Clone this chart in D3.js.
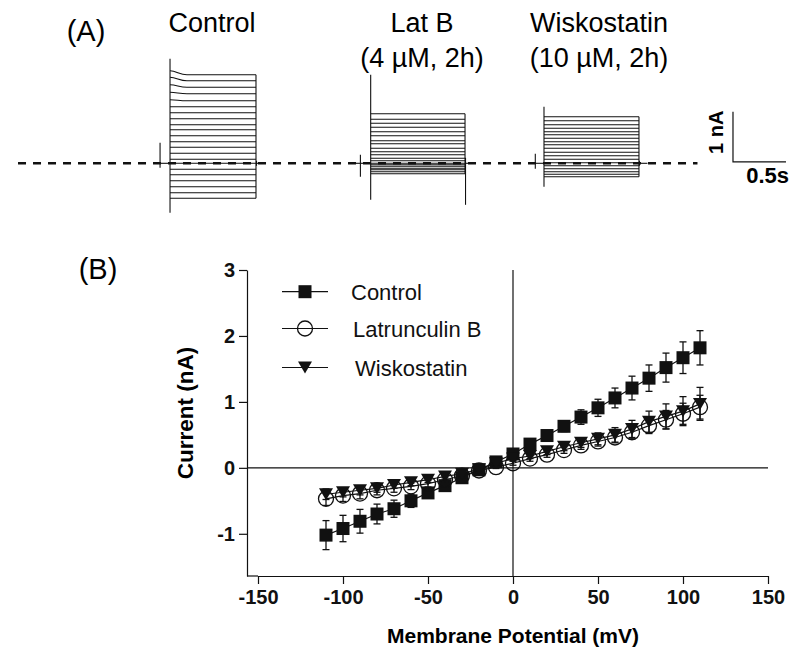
<!DOCTYPE html>
<html>
<head>
<meta charset="utf-8">
<script src="https://cdn.jsdelivr.net/npm/d3@7"></script>
<style>
  html, body { margin: 0; padding: 0; background: #fff; }
  svg { display: block; font-family: "Liberation Sans", Arial, sans-serif; }
</style>
</head>
<body>
<svg id="chart" width="800" height="661"></svg>
<script>
// ---------------- DATA ----------------
// Panel B: I-V relationship
const voltages = [-110,-100,-90,-80,-70,-60,-50,-40,-30,-20,-10,0,10,20,30,40,50,60,70,80,90,100,110];
const controlMean = [-1.02,-0.92,-0.81,-0.70,-0.62,-0.50,-0.38,-0.27,-0.15,-0.03,0.09,0.21,0.36,0.49,0.63,0.77,0.91,1.06,1.21,1.36,1.52,1.67,1.82];
const controlSem  = [0.22,0.20,0.18,0.15,0.13,0.10,0.08,0.06,0.05,0.03,0.03,0.04,0.05,0.06,0.08,0.11,0.13,0.15,0.18,0.20,0.22,0.24,0.26];
const latBMean = [-0.47,-0.42,-0.39,-0.34,-0.31,-0.28,-0.24,-0.18,-0.12,-0.04,0.01,0.07,0.14,0.20,0.27,0.34,0.40,0.46,0.54,0.64,0.73,0.82,0.92];
const latBSem  = [0.10,0.09,0.08,0.07,0.06,0.05,0.05,0.04,0.03,0.03,0.02,0.03,0.04,0.04,0.05,0.06,0.07,0.08,0.10,0.12,0.14,0.16,0.18];
const wiskoMean = [-0.40,-0.37,-0.34,-0.31,-0.26,-0.22,-0.18,-0.13,-0.09,-0.02,0.07,0.14,0.18,0.25,0.32,0.38,0.44,0.50,0.59,0.70,0.78,0.86,0.97];
const wiskoSem  = [0.08,0.07,0.07,0.06,0.05,0.05,0.04,0.04,0.03,0.03,0.02,0.03,0.04,0.05,0.06,0.07,0.09,0.11,0.13,0.16,0.19,0.22,0.25];
const seriesNames = ["Control", "Latrunculin B", "Wiskostatin"];
const xTicks = [-150,-100,-50,0,50,100,150];
const yTicks = [-1,0,1,2,3];

// Panel A: current traces (step amplitudes, nA)
const controlSteps = [1.77,1.65,1.52,1.39,1.25,1.13,1.01,0.89,0.77,0.67,0.55,0.43,0.32,0.20,0.08,0.0,-0.12,-0.23,-0.35,-0.47,-0.59,-0.70];
const controlOnsetPeak = [0.08,0.07,0.05,0.03,0.02,0,0,0,0,0,0,0,0,0,0,0,0,0,0,0,0,0];
const latBSteps = [0.99,0.88,0.80,0.72,0.63,0.55,0.45,0.39,0.30,0.23,0.17,0.10,0.05,0.0,-0.03,-0.06,-0.10,-0.13,-0.17,-0.21];
const wiskoSteps = [0.93,0.85,0.77,0.70,0.63,0.57,0.50,0.43,0.37,0.30,0.22,0.15,0.08,0.01,-0.05,-0.11,-0.17,-0.22,-0.27];
const traceTitles = [["Control"], ["Lat B", "(4 \u00b5M, 2h)"], ["Wiskostatin", "(10 \u00b5M, 2h)"]];
// timing (s): prepulse spike, pulse start, pulse end; transients (nA)
const pulseStart = [1.604, 3.497, 5.132];
const pulseEnd   = [2.415, 4.387, 6.028];
const prepulseTime = [1.51, 3.40, 5.05];
const onsetTransient = [[2.09,-0.99],[1.77,-0.73],[1.13,-0.47]];
const offsetTransient = [[0.05,-0.05],[0.11,-0.83],[0.05,-0.05]];
const prepulseTransient = [[0.41,-0.09],[0.17,-0.27],[0.19,-0.11]];

// ---------------- DRAW ----------------
const svg = d3.select("#chart");
const allSteps = [controlSteps, latBSteps, wiskoSteps];

// Panel A scales
const xA = d3.scaleLinear().domain([0, 1]).range([0, 106]);
const yA = d3.scaleLinear().domain([0, 1]).range([163.3, 113.3]);

svg.append("text").attr("x", 86).attr("y", 41).attr("text-anchor", "middle")
  .attr("font-size", 29).text("(A)");

const gA = svg.append("g");
allSteps.forEach((steps, i) => {
  const x0 = xA(pulseStart[i]), x1 = xA(pulseEnd[i]);
  const g = gA.append("g").attr("stroke", "#111").attr("stroke-width", 1.1).attr("fill", "none");
  // baseline pieces
  g.append("line").attr("x1", xA(prepulseTime[i] - 0.05)).attr("x2", x0)
    .attr("y1", yA(0)).attr("y2", yA(0));
  g.append("line").attr("x1", x1).attr("x2", xA(pulseEnd[i] + 0.08))
    .attr("y1", yA(0)).attr("y2", yA(0));
  // steps (control top sweeps show a small initial decay)
  g.selectAll("path.step").data(steps).join("path").attr("class", "step")
    .attr("d", (d, k) => {
      const pk = i === 0 ? controlOnsetPeak[k] : 0;
      if (pk === 0) return `M${x0},${yA(d)} L${x1},${yA(d)}`;
      return `M${x0},${yA(d + pk)} C${xA(pulseStart[i] + 0.06)},${yA(d + pk)} ${xA(pulseStart[i] + 0.09)},${yA(d)} ${xA(pulseStart[i] + 0.16)},${yA(d)} L${x1},${yA(d)}`;
    });
  // right edge
  g.append("line").attr("x1", x1).attr("x2", x1)
    .attr("y1", yA(d3.max(steps))).attr("y2", yA(d3.min(steps)));
  // onset transient
  g.append("line").attr("x1", x0).attr("x2", x0)
    .attr("y1", yA(onsetTransient[i][0])).attr("y2", yA(onsetTransient[i][1]));
  // offset transient
  g.append("line").attr("x1", x1 + 0.5).attr("x2", x1 + 0.5)
    .attr("y1", yA(offsetTransient[i][0])).attr("y2", yA(offsetTransient[i][1]));
  // prepulse transient
  g.append("line").attr("x1", xA(prepulseTime[i])).attr("x2", xA(prepulseTime[i]))
    .attr("y1", yA(prepulseTransient[i][0])).attr("y2", yA(prepulseTransient[i][1]));
});

// dashed baseline
gA.append("line").attr("x1", xA(0.17)).attr("x2", xA(6.58))
  .attr("y1", yA(0)).attr("y2", yA(0))
  .attr("stroke", "#111").attr("stroke-width", 2.5).attr("stroke-dasharray", "8,7");

// titles
const titleX = [212, 422, 599];
traceTitles.forEach((lines, i) => {
  lines.forEach((t, j) => {
    svg.append("text").attr("x", titleX[i]).attr("y", 32 + j * 35)
      .attr("text-anchor", "middle").attr("font-size", 27).text(t);
  });
});

// scale bar
const sbT = 6.915;
gA.append("path")
  .attr("d", `M${xA(sbT)},${yA(1.03)} L${xA(sbT)},${yA(0.03)} L${xA(sbT + 0.5)},${yA(0.03)}`)
  .attr("stroke", "#111").attr("stroke-width", 1.2).attr("fill", "none");
svg.append("text").attr("transform", `translate(${xA(sbT) - 10},${yA(0.62)}) rotate(-90)`)
  .attr("text-anchor", "middle").attr("font-size", 20).attr("font-weight", "bold").text("1 nA");
svg.append("text").attr("x", xA(sbT + 0.5) + 3).attr("y", 183)
  .attr("text-anchor", "end").attr("font-size", 22).attr("font-weight", "bold").text("0.5s");

// ---------------- Panel B ----------------
svg.append("text").attr("x", 98).attr("y", 279).attr("text-anchor", "middle")
  .attr("font-size", 29).text("(B)");

const x = d3.scaleLinear().domain([-150, 150]).range([258, 768]);
const y = d3.scaleLinear().domain([-1.64, 3]).range([576, 270]);
const yAxisX = 247;

const gB = svg.append("g");

// zero lines
gB.append("line").attr("x1", yAxisX).attr("x2", x(150)).attr("y1", y(0)).attr("y2", y(0))
  .attr("stroke", "#111").attr("stroke-width", 1.2);
gB.append("line").attr("x1", x(0)).attr("x2", x(0)).attr("y1", y(3)).attr("y2", y(-1.64))
  .attr("stroke", "#111").attr("stroke-width", 1.2);

// axes
const yAxis = d3.axisLeft(y).tickValues(yTicks).tickSize(8).tickSizeOuter(0).tickPadding(4)
  .tickFormat(d => String(d));
const gy = gB.append("g").attr("transform", `translate(${yAxisX},0)`).call(yAxis);
const xAxis = d3.axisBottom(x).tickValues(xTicks).tickSize(8).tickSizeOuter(0).tickPadding(6)
  .tickFormat(d => String(d));
const gx = gB.append("g").attr("transform", `translate(0,${y(-1.64)})`).call(xAxis);
gB.append("line").attr("x1", yAxisX).attr("x2", x(-150)).attr("y1", y(-1.64)).attr("y2", y(-1.64))
  .attr("stroke", "#111").attr("stroke-width", 1.2);
[gx, gy].forEach(g => {
  g.selectAll("path.domain").attr("stroke", "#111").attr("stroke-width", 1.2);
  g.selectAll(".tick line").attr("stroke", "#111").attr("stroke-width", 1.2);
  g.selectAll(".tick text").attr("font-size", 20).attr("font-weight", "bold")
    .attr("fill", "#111").attr("font-family", "Liberation Sans, Arial, sans-serif");
});

// axis titles
gB.append("text").attr("x", x(0)).attr("y", 643).attr("text-anchor", "middle")
  .attr("font-size", 21).attr("font-weight", "bold").text("Membrane Potential (mV)");
gB.append("text").attr("transform", `translate(193,${413}) rotate(-90)`)
  .attr("text-anchor", "middle").attr("font-size", 22.5).attr("font-weight", "bold").text("Current (nA)");

// series
const series = [
  { mean: controlMean, sem: controlSem, shape: "square" },
  { mean: latBMean, sem: latBSem, shape: "circle" },
  { mean: wiskoMean, sem: wiskoSem, shape: "triangle" }
];
const line = d3.line().x(d => x(d[0])).y(d => y(d[1]));

function drawMarker(g, shape, cx, cy) {
  if (shape === "square") {
    g.append("rect").attr("x", cx - 6.5).attr("y", cy - 6.5).attr("width", 13).attr("height", 13)
      .attr("fill", "#111");
  } else if (shape === "circle") {
    g.append("circle").attr("cx", cx).attr("cy", cy).attr("r", 7.5)
      .attr("fill", "none").attr("stroke", "#111").attr("stroke-width", 1.3);
  } else {
    g.append("path").attr("d", `M${cx - 7},${cy - 6} L${cx + 7},${cy - 6} L${cx},${cy + 6} Z`)
      .attr("fill", "#111");
  }
}

series.forEach(s => {
  const g = gB.append("g");
  const pts = voltages.map((v, i) => [v, s.mean[i], s.sem[i]]);
  // error bars
  pts.forEach(p => {
    const cx = x(p[0]);
    g.append("line").attr("x1", cx).attr("x2", cx).attr("y1", y(p[1] + p[2])).attr("y2", y(p[1] - p[2]))
      .attr("stroke", "#111").attr("stroke-width", 1.3);
    [p[1] + p[2], p[1] - p[2]].forEach(e => {
      g.append("line").attr("x1", cx - 3.5).attr("x2", cx + 3.5).attr("y1", y(e)).attr("y2", y(e))
        .attr("stroke", "#111").attr("stroke-width", 1.3);
    });
  });
  g.append("path").attr("d", line(pts)).attr("fill", "none").attr("stroke", "#111").attr("stroke-width", 1.2);
  pts.forEach(p => drawMarker(g, s.shape, x(p[0]), y(p[1])));
});

// legend
const legendRows = [291.7, 328.5, 367.5];
const legendTextX = [351, 353, 355];
seriesNames.forEach((name, i) => {
  const g = gB.append("g");
  g.append("line").attr("x1", 282).attr("x2", 328).attr("y1", legendRows[i]).attr("y2", legendRows[i])
    .attr("stroke", "#111").attr("stroke-width", 1.2);
  drawMarker(g, series[i].shape, 305, legendRows[i]);
  g.append("text").attr("x", legendTextX[i]).attr("y", legendRows[i] + 8)
    .attr("font-size", 22).attr("fill", "#111").text(name);
});
</script>
</body>
</html>
